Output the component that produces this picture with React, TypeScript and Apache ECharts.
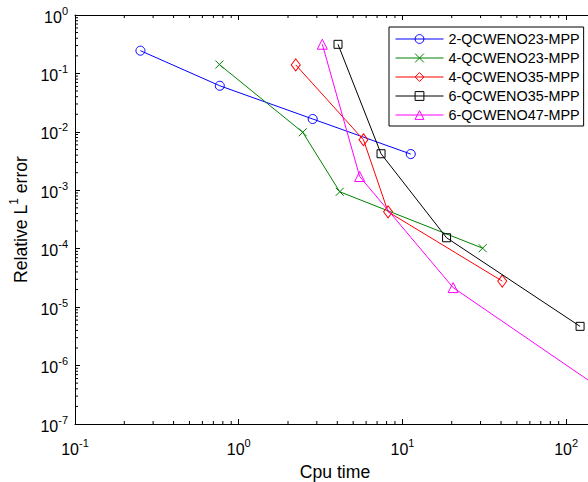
import React, { useEffect, useRef } from "react";
import * as echarts from "echarts";

const seriesNames = [
  "2-QCWENO23-MPP",
  "4-QCWENO23-MPP",
  "4-QCWENO35-MPP",
  "6-QCWENO35-MPP",
  "6-QCWENO47-MPP",
];
const cpu2q23 = [0.251, 0.766, 2.83, 11.24];
const err2q23 = [0.245, 0.0615, 0.0166, 0.00417];
const cpu4q23 = [0.762, 2.46, 4.14, 30.9];
const err4q23 = [0.142, 0.00984, 0.000943, 0.000102];
const cpu4q35 = [2.23, 5.78, 8.17, 40.7];
const err4q35 = [0.14, 0.00732, 0.000428, 0.0000279];
const cpu6q35 = [4.04, 7.4, 18.6, 121.6];
const err6q35 = [0.315, 0.00422, 0.000154, 0.00000469];
const cpu6q47 = [3.24, 5.48, 20.4, 200];
const err6q47 = [0.316, 0.00172, 0.0000216, 0.00000027];

const xMin = 0.1;
const xMax = 150;
const yMin = 1e-7;
const yMax = 1;

const colors = ["#0000ff", "#008000", "#ff0000", "#000000", "#ff00ff"];
const symbols: any[] = [
  "circle",
  "path://M0,0L10,10M10,0L0,10",
  "diamond",
  "rect",
  "triangle",
];
const symbolSizes: any[] = [9, 8, [9, 12], 8, 10];

const FONT = "'Liberation Sans', Arial, Helvetica, sans-serif";

function minorTicks(lo: number, hi: number) {
  const out: number[] = [];
  for (let e = Math.floor(Math.log10(lo)); e <= Math.ceil(Math.log10(hi)); e++) {
    for (let m = 2; m <= 9; m++) {
      const v = m * Math.pow(10, e);
      if (v > lo && v < hi) out.push(v);
    }
  }
  return out;
}

const pow10Label = (v: number) => {
  const e = Math.log10(v);
  const r = Math.round(e);
  if (Math.abs(e - r) > 1e-6) return "";
  return "{b|10}{s|" + r + "}";
};

const labelRich = {
  b: { fontSize: 16, fontFamily: FONT, color: "#000", lineHeight: 20, verticalAlign: "bottom" },
  s: { fontSize: 11, fontFamily: FONT, color: "#000", lineHeight: 11, verticalAlign: "top" },
};

export default function App() {
  const ref = useRef<HTMLDivElement>(null);
  useEffect(() => {
    if (!ref.current) return;
    const chart = echarts.init(ref.current, null, { renderer: "svg" });
    const data = [
      [cpu2q23, err2q23],
      [cpu4q23, err4q23],
      [cpu4q35, err4q35],
      [cpu6q35, err6q35],
      [cpu6q47, err6q47],
    ];
    const lineSeries = seriesNames.map((name, i) => ({
      name,
      type: "line",
      data: data[i][0].map((x, k) => [x, data[i][1][k]]),
      symbol: symbols[i],
      symbolSize: symbolSizes[i],
      showAllSymbol: true,
      clip: true,
      color: colors[i],
      lineStyle: { color: colors[i], width: 1 },
      itemStyle: { color: "rgba(0,0,0,0)", borderColor: colors[i], borderWidth: 1 },
      emphasis: { disabled: true },
      z: 3 + i,
    }));
    const xm = minorTicks(xMin, xMax);
    const ym = minorTicks(yMin, yMax);
    const tickLen = 3;
    const minorX = {
      type: "custom",
      silent: true,
      data: xm.map((v) => [v, yMin]),
      renderItem: (params: any, api: any) => {
        const cs = params.coordSys;
        const p = api.coord([api.value(0), yMin]);
        const st = { stroke: "#000", lineWidth: 1 };
        return {
          type: "group",
          children: [
            { type: "line", shape: { x1: p[0], y1: cs.y + cs.height, x2: p[0], y2: cs.y + cs.height - tickLen }, style: st },
            { type: "line", shape: { x1: p[0], y1: cs.y, x2: p[0], y2: cs.y + tickLen }, style: st },
          ],
        };
      },
      z: 10,
    };
    const minorY = {
      type: "custom",
      silent: true,
      data: ym.map((v) => [xMin, v]),
      renderItem: (params: any, api: any) => {
        const cs = params.coordSys;
        const p = api.coord([xMin, api.value(1)]);
        const st = { stroke: "#000", lineWidth: 1 };
        return {
          type: "group",
          children: [
            { type: "line", shape: { x1: cs.x, y1: p[1], x2: cs.x + tickLen, y2: p[1] }, style: st },
            { type: "line", shape: { x1: cs.x + cs.width, y1: p[1], x2: cs.x + cs.width - tickLen, y2: p[1] }, style: st },
          ],
        };
      },
      z: 10,
    };
    const axisCommon = {
      type: "log",
      logBase: 10,
      axisLine: { show: true, lineStyle: { color: "#000", width: 1 } },
      axisTick: { show: true, inside: true, length: 5, lineStyle: { color: "#000", width: 1 } },
      splitLine: { show: false },
      minorTick: { show: false },
    };
    chart.setOption({
      animation: false,
      backgroundColor: "#fff",
      textStyle: { fontFamily: FONT },
      grid: {
        left: 75,
        top: 15,
        width: 520,
        height: 409,
        containLabel: false,
        outerBoundsMode: "none",
      },
      legend: {
        data: seriesNames,
        orient: "vertical",
        left: 389,
        top: 27,
        padding: [5, 4, 4, 6],
        itemWidth: 48,
        itemHeight: 11,
        itemGap: 5,
        backgroundColor: "#fff",
        borderColor: "#000",
        borderWidth: 1,
        borderRadius: 0,
        lineStyle: { width: 1 },
        itemStyle: { borderWidth: 1 },
        textStyle: { fontSize: 14.4, color: "#000", fontFamily: FONT, lineHeight: 14 },
        selectedMode: false,
      },
      xAxis: [
        {
          ...axisCommon,
          position: "bottom",
          min: xMin,
          max: xMax,
          axisLabel: {
            show: true,
            margin: 13,
            formatter: pow10Label,
            showMaxLabel: false,
            rich: labelRich,
          },
          name: "Cpu time",
          nameLocation: "middle",
          nameGap: 36,
          nameTextStyle: { fontSize: 17.6, color: "#000", fontFamily: FONT, lineHeight: 20 },
        },
        {
          ...axisCommon,
          position: "top",
          min: xMin,
          max: xMax,
          axisLabel: { show: false },
        },
      ],
      yAxis: [
        {
          ...axisCommon,
          position: "left",
          min: yMin,
          max: yMax,
          axisLabel: {
            show: true,
            margin: 7,
            formatter: pow10Label,
            rich: labelRich,
          },
          name: "{n|Relative L}{s|1}{n| error}",
          nameLocation: "middle",
          nameGap: 37,
          nameTextStyle: {
            color: "#000",
            rich: {
              n: { fontSize: 17.6, fontFamily: FONT, color: "#000", lineHeight: 22, verticalAlign: "bottom" },
              s: { fontSize: 12, fontFamily: FONT, color: "#000", lineHeight: 12, verticalAlign: "top" },
            },
          },
        },
      ],
      series: [...lineSeries, minorX, minorY],
    });
    return () => chart.dispose();
  }, []);
  return (
    <div
      style={{
        position: "fixed",
        left: 0,
        top: 0,
        width: 588,
        height: 482,
        overflow: "hidden",
        background: "#fff",
      }}
    >
      <div ref={ref} style={{ width: 620, height: 482 }} />
    </div>
  );
}
